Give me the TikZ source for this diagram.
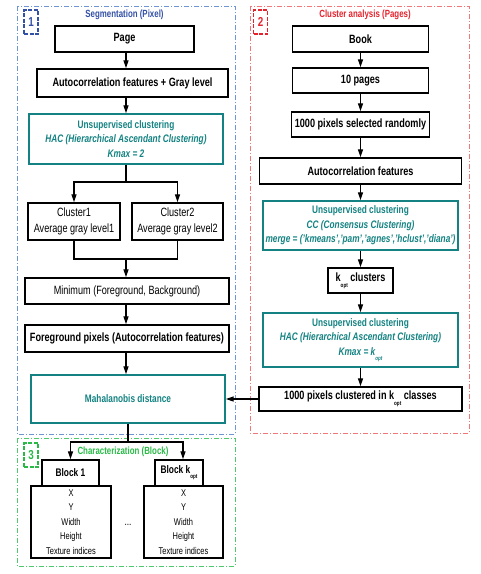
\documentclass[tikz,border=0pt]{standalone}
\usepackage{fontspec}
\setmainfont{Liberation Sans}[FakeStretch=0.76]
\usetikzlibrary{arrows.meta, positioning, calc}
\definecolor{tealbox}{RGB}{20,130,130}
\definecolor{segblue}{RGB}{50,80,165}
\definecolor{frblue}{RGB}{110,150,210}
\definecolor{clred}{RGB}{230,35,45}
\definecolor{frred}{RGB}{240,120,120}
\definecolor{chgreen}{RGB}{40,185,70}
\definecolor{frgreen}{RGB}{80,200,110}
\newcommand{\kopt}{k\raisebox{-0.9ex}{\fontsize{6}{6}\selectfont opt}}
\tikzset{
  box/.style={draw, line width=1.4pt, inner sep=1pt, align=center, font=\fontsize{12}{16}\selectfont\bfseries},
  tbox/.style={draw=tealbox, text=tealbox, line width=1.4pt, inner sep=1pt, align=center, font=\fontsize{10.9}{14.5}\selectfont\bfseries},
  arr/.style={-{Triangle[length=8pt, width=5pt]}, line width=1.1pt},
  frame/.style={draw=#1, line width=0.9pt, dash pattern=on 5pt off 2pt on 1pt off 2pt},
  numbox/.style={draw=#1, text=#1, line width=1.6pt, dash pattern=on 4pt off 1.5pt, minimum width=14pt, minimum height=24pt, inner sep=0pt, font=\fontsize{13}{13}\selectfont\bfseries},
  title/.style={text=#1, font=\fontsize{10.4}{11}\selectfont\bfseries},
}

\begin{document}
\begin{tikzpicture}[x=1pt, y=-1pt]
  \useasboundingbox (0,0) rectangle (481,574);

  % frames
  \draw[frame=frblue] (17,6) rectangle (235,434);
  \draw[frame=frred] (250,6) rectangle (469,433);
  \draw[frame=frgreen] (17,438) rectangle (235,566);
  \node[numbox=segblue] (n1) at (31,22) {1};
  \node[numbox=clred] (n2) at (260.5,22) {2};
  \node[numbox=chgreen] (n3) at (31,455) {3};
  \node[title=segblue] (t1) at (124.5,15) {Segmentation (Pixel)};
  \node[title=clred] (t2) at (365,15) {Cluster analysis (Pages)};
  \node[title=chgreen] (t3) at (123,452) {Characterization (Block)};

  % segmentation
  \node[box, minimum width=139pt, minimum height=26pt] (page) at (124.5,39) {Page};
  \node[box, minimum width=191pt, minimum height=28pt] (acgl) at (132.5,83) {Autocorrelation features + Gray level};
  \node[tbox, minimum width=194pt, minimum height=50pt] (hac1) at (126,139)
    {Unsupervised clustering\\ \textit{HAC (Hierarchical Ascendant Clustering)}\\ \textit{Kmax = 2}};
  \node[box, font=\fontsize{12}{16.5}\selectfont, minimum width=92pt, minimum height=37pt] (cl1) at (74,221.5)
    {Cluster1\\ Average gray level1};
  \node[box, font=\fontsize{12}{16.5}\selectfont, minimum width=91pt, minimum height=37pt] (cl2) at (177.5,221.5)
    {Cluster2\\ Average gray level2};
  \node[box, font=\fontsize{12}{16}\selectfont, minimum width=204pt, minimum height=26pt] (minfb) at (127,291)
    {Minimum (Foreground, Background)};
  \node[box, minimum width=204pt, minimum height=27pt] (fgpx) at (127,338.5)
    {Foreground pixels (Autocorrelation features)};
  \node[tbox, minimum width=194pt, minimum height=48pt] (maha) at (128,399) {Mahalanobis distance};

  % cluster analysis
  \node[box, minimum width=136pt, minimum height=26pt] (book) at (360.5,39) {Book};
  \node[box, minimum width=136pt, minimum height=25pt] (tenp) at (360.5,80.5) {10 pages};
  \node[box, minimum width=138pt, minimum height=25pt] (thsel) at (360.5,124.5) {1000 pixels selected randomly};
  \node[box, minimum width=202pt, minimum height=26pt] (acf) at (360.5,171) {Autocorrelation features};
  \node[tbox, minimum width=195pt, minimum height=49pt] (cc) at (360.5,225.5)
    {Unsupervised clustering\\ \textit{CC (Consensus Clustering)}\\ \textit{merge = ('kmeans','pam','agnes','hclust','diana')}};
  \node[box, minimum width=65pt, minimum height=25pt] (kopt) at (360.5,280.5) {\kopt\ clusters};
  \node[tbox, minimum width=195pt, minimum height=54pt] (hac2) at (360.5,340)
    {Unsupervised clustering\\ \textit{HAC (Hierarchical Ascendant Clustering)}\\ \textit{Kmax = \kopt}};
  \node[box, minimum width=203pt, minimum height=24pt] (thcl) at (360.5,399)
    {1000 pixels clustered in \kopt\ classes};

  % characterization
  \node[box, font=\fontsize{11}{12}\selectfont\bfseries, minimum width=57pt, minimum height=26pt] (blk1) at (70.5,473) {Block 1};
  \node[box, font=\fontsize{11}{12}\selectfont\bfseries, minimum width=48pt, minimum height=26pt] (blkk) at (179,473) {Block \kopt};
  \node[box, font=\fontsize{9.8}{14.5}\selectfont, minimum width=80pt, minimum height=72pt] (det1) at (71,522)
    {X\\ Y\\ Width\\ Height\\ Texture indices};
  \node[box, font=\fontsize{9.8}{14.5}\selectfont, minimum width=79pt, minimum height=72pt] (det2) at (183.5,522)
    {X\\ Y\\ Width\\ Height\\ Texture indices};
  \node[font=\fontsize{11}{11}\selectfont] (dots) at (128,525) {...};

  % connectors
  \coordinate (sp1) at (126,182);
  \coordinate (mg1) at (126,259);
  \coordinate (sp2) at (128,442);
  \draw[arr] (page.south -| hac1.north) -- (acgl.north -| hac1.north);
  \draw[arr] (acgl.south -| hac1.north) -- (hac1.north);
  \draw[line width=1.1pt] (hac1.south) -- (sp1);
  \draw[arr] (sp1) -| (cl1.north);
  \draw[arr] (sp1) -| (cl2.north);
  \draw[line width=1.1pt] (cl1.south) |- (mg1) -| (cl2.south);
  \draw[arr] (mg1) -- (mg1 |- minfb.north);
  \draw[arr] (minfb.south -| mg1) -- (fgpx.north -| mg1);
  \draw[arr] (fgpx.south -| mg1) -- (maha.north -| mg1);
  \draw[line width=1.1pt] (maha.south -| sp2) -- (sp2);
  \draw[arr] (sp2) -| (blk1.north);
  \draw[arr] (sp2) -| ([xshift=4pt]blkk.north);
  \draw[arr] (book) -- (tenp);
  \draw[arr] (tenp) -- (thsel);
  \draw[arr] (thsel) -- (acf);
  \draw[arr] (acf) -- (cc);
  \draw[arr] (cc) -- (kopt);
  \draw[arr] (kopt) -- (hac2);
  \draw[arr] (hac2) -- (thcl);
  \draw[arr] (thcl) -- (maha);
\end{tikzpicture}
\end{document}
